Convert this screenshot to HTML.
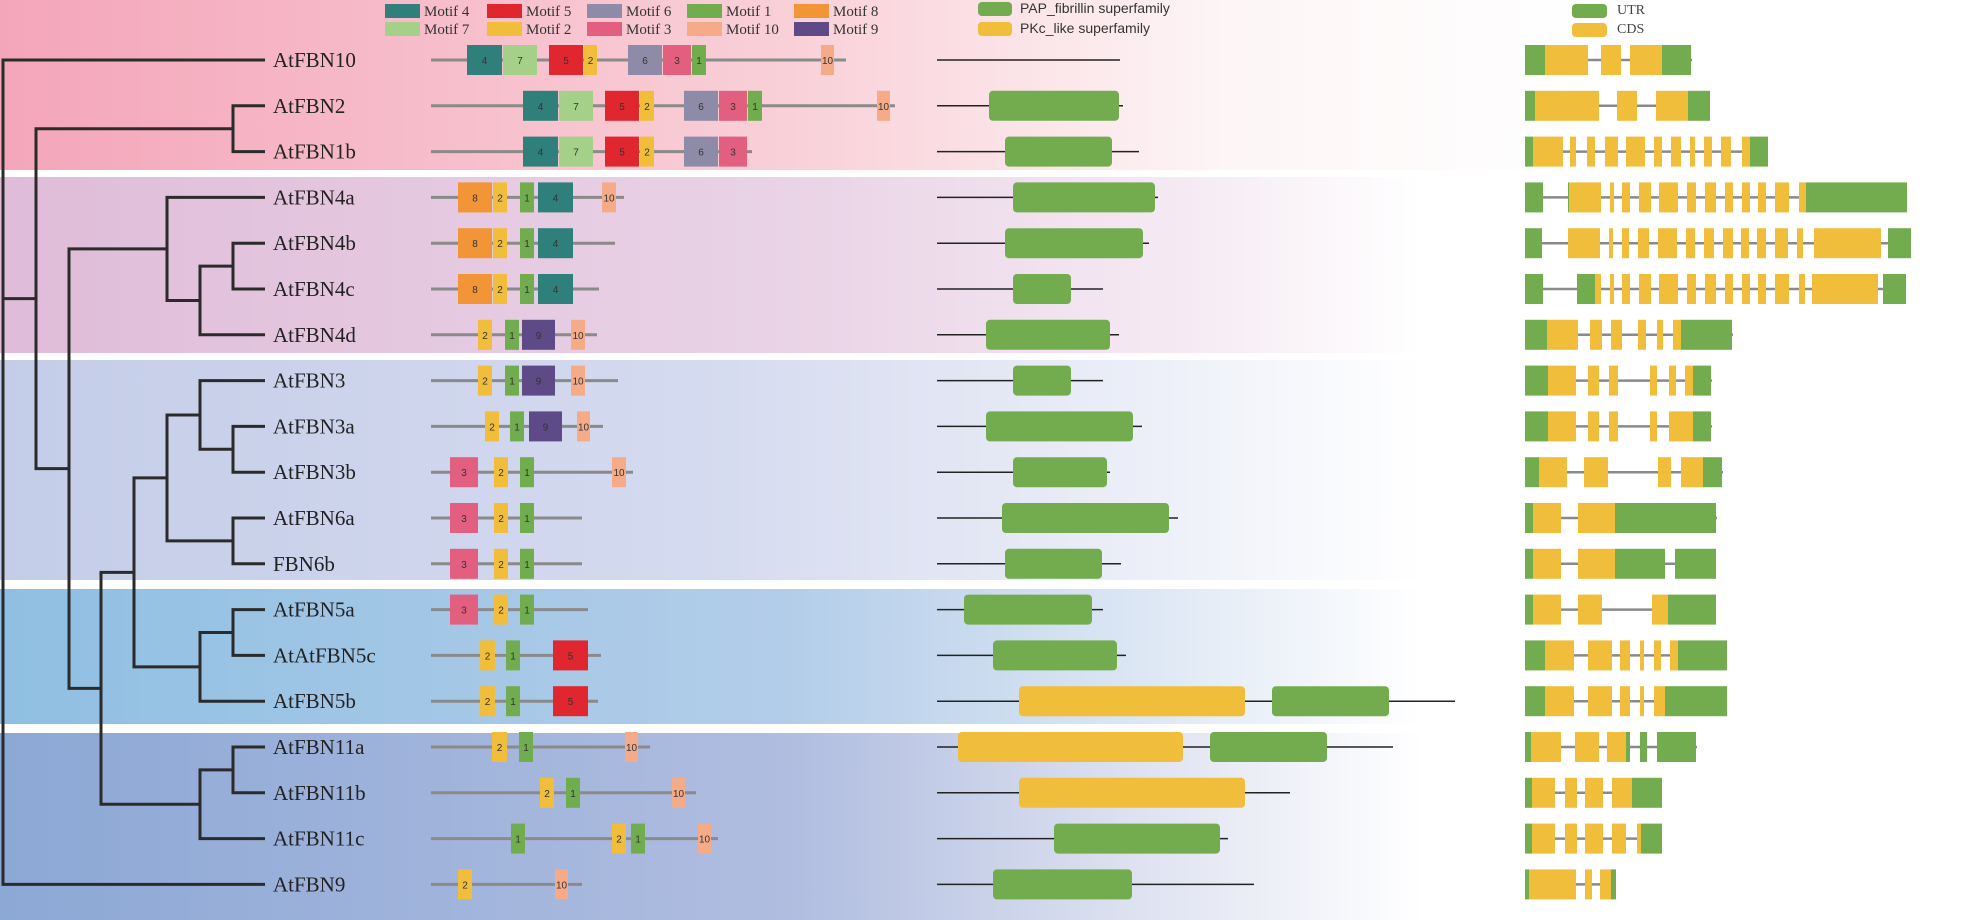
<!DOCTYPE html>
<html><head><meta charset="utf-8">
<style>
html,body{margin:0;padding:0;background:#fff;}
#wrap{position:relative;width:1975px;height:920px;overflow:hidden;background:#fff;}
.band{position:absolute;left:0;width:1975px;}
svg{position:absolute;left:0;top:0;}
text{font-family:"Liberation Serif",serif;}
.num{font-family:"Liberation Sans",sans-serif;font-size:10px;fill:#333;}
</style></head>
<body>
<div id="wrap">
<div class="band" style="top:0;height:170px;background:linear-gradient(90deg,#f4a6b9 0%,#f9d0d8 40%,#fdf5f6 62%,#fff 80%)"></div>
<div class="band" style="top:177px;height:176px;background:linear-gradient(90deg,#dfbcd9 0%,#e9d3e6 40%,#f5eaf3 60%,#fff 72%)"></div>
<div class="band" style="top:360px;height:220px;background:linear-gradient(90deg,#c4cde8 0%,#d4daef 35%,#eceff8 58%,#fff 72%)"></div>
<div class="band" style="top:589px;height:135px;background:linear-gradient(90deg,#8fbfe2 0%,#b3cde9 40%,#dde7f4 58%,#fff 72%)"></div>
<div class="band" style="top:733px;height:187px;background:linear-gradient(90deg,#8ca8d5 0%,#b0bde0 40%,#dfe3f1 58%,#fff 72%)"></div>
<svg id="fig" width="1975" height="920"></svg>
</div>
<script>
const genes=["AtFBN10","AtFBN2","AtFBN1b","AtFBN4a","AtFBN4b","AtFBN4c","AtFBN4d","AtFBN3","AtFBN3a","AtFBN3b","AtFBN6a","FBN6b","AtFBN5a","AtAtFBN5c","AtFBN5b","AtFBN11a","AtFBN11b","AtFBN11c","AtFBN9"];
const motifColors={1:"#71ad4e",2:"#f0be3a",3:"#e35f80",4:"#2f7f7a",5:"#e0262f",6:"#8e8ba8",7:"#a5d08a",8:"#f29536",9:"#5e4a86",10:"#f6ab88"};
const motifLegendOrder=[4,7,5,2,6,3,1,10,8,9];
// protein lengths (motif scale units)
const protLen=[415,464,321,193,184,168,166,187,172,202,151,151,157,170,167,219,265,287,151];
// motifs: [motif id, start, end]
const motifs=[
[[4,36,71],[7,72,106],[5,118,152],[2,153,166],[6,197,231],[3,232,260],[1,261,275],[10,390,403]],
[[4,92,127],[7,128,162],[5,174,208],[2,209,223],[6,253,287],[3,288,316],[1,317,331],[10,446,459]],
[[4,92,127],[7,128,162],[5,174,208],[2,209,223],[6,253,287],[3,288,316]],
[[8,27,61],[2,62,76],[1,89,103],[4,107,142],[10,171,185]],
[[8,27,61],[2,62,76],[1,89,103],[4,107,142]],
[[8,27,61],[2,62,76],[1,89,103],[4,107,142]],
[[2,47,61],[1,74,88],[9,91,124],[10,140,154]],
[[2,47,61],[1,74,88],[9,91,124],[10,140,154]],
[[2,54,68],[1,79,93],[9,98,131],[10,146,159]],
[[3,19,47],[2,63,77],[1,89,103],[10,181,195]],
[[3,19,47],[2,63,77],[1,89,103]],
[[3,19,47],[2,63,77],[1,89,103]],
[[3,19,47],[2,63,77],[1,89,103]],
[[2,49,64],[1,75,89],[5,122,157]],
[[2,49,64],[1,75,89],[5,122,157]],
[[2,61,76],[1,88,102],[10,194,207]],
[[2,109,123],[1,135,149],[10,241,254]],
[[1,80,94],[2,181,195],[1,200,214],[10,267,280]],
[[2,27,41],[10,124,137]]
];
// domain track: total length and domains [type, start, end]
const domLen=[183,186,202,221,212,166,182,166,205,173,241,184,166,189,518,456,353,291,317];
const domains=[
[],[["PAP",52,182]],[["PAP",68,175]],[["PAP",76,218]],[["PAP",68,206]],[["PAP",76,134]],[["PAP",49,173]],
[["PAP",76,134]],[["PAP",49,196]],[["PAP",76,170]],[["PAP",65,232]],[["PAP",68,165]],[["PAP",27,155]],[["PAP",56,180]],
[["PKc",82,308],["PAP",335,452]],[["PKc",21,246],["PAP",273,390]],[["PKc",82,308]],[["PAP",117,283]],[["PAP",56,195]]
];
// gene structure: total length and features [type, start, end]
const geneLen=[167,185,243,382,386,381,208,187,187,198,192,191,191,202,202,172,137,137,91];
const geneFeat=[
[["U",0,20],["C",20,63],["C",76,96],["C",105,137],["U",137,166]],
[["U",0,10],["C",10,74],["C",92,112],["C",131,163],["U",163,185]],
[["U",0,8],["C",8,38],["C",45,51],["C",62,70],["C",80,93],["C",101,120],["C",129,137],["C",146,156],["C",165,170],["C",179,187],["C",196,206],["C",217,225],["U",225,243]],
[["U",0,18],["U",43,44],["C",44,76],["C",85,89],["C",97,105],["C",114,126],["C",134,153],["C",162,171],["C",180,191],["C",200,208],["C",217,225],["C",233,241],["C",250,264],["C",274,281],["U",281,382]],
[["U",0,17],["C",43,75],["C",84,88],["C",97,104],["C",113,124],["C",133,152],["C",161,170],["C",179,189],["C",198,208],["C",216,224],["C",232,241],["C",250,263],["C",272,278],["C",289,356],["U",363,386]],
[["U",0,18],["U",52,70],["C",70,76],["C",85,89],["C",97,105],["C",114,126],["C",134,153],["C",162,171],["C",180,191],["C",200,208],["C",217,225],["C",233,241],["C",250,264],["C",274,280],["C",287,353],["U",358,381]],
[["U",0,22],["C",22,53],["C",65,77],["C",86,97],["C",113,121],["C",132,138],["C",148,156],["U",156,207]],
[["U",0,23],["C",23,51],["C",63,74],["C",84,93],["C",125,132],["C",144,151],["C",160,168],["U",168,186]],
[["U",0,23],["C",23,51],["C",63,74],["C",84,93],["C",125,132],["C",144,168],["U",168,186]],
[["U",0,14],["C",14,42],["C",59,83],["C",133,146],["C",156,178],["U",178,197]],
[["U",0,8],["C",8,36],["C",53,90],["U",90,191]],
[["U",0,8],["C",8,36],["C",53,90],["U",90,140],["U",150,191]],
[["U",0,8],["C",8,36],["C",53,77],["C",127,143],["U",143,191]],
[["U",0,20],["C",20,49],["C",63,87],["C",95,105],["C",115,119],["C",129,136],["C",145,153],["U",153,202]],
[["U",0,20],["C",20,49],["C",63,87],["C",95,105],["C",115,119],["C",129,140],["U",140,202]],
[["U",0,6],["C",6,36],["C",50,74],["C",82,101],["U",101,105],["U",115,122],["U",132,171]],
[["U",0,7],["C",7,30],["C",40,52],["C",60,78],["C",87,107],["U",107,137]],
[["U",0,7],["C",7,30],["C",40,52],["C",60,78],["C",87,101],["C",112,116],["U",116,137]],
[["U",0,4],["C",4,51],["C",60,67],["C",75,86],["U",86,91]]
];
const NS="http://www.w3.org/2000/svg";
const svg=document.getElementById("fig");
function mk(tag,attrs,parent){const e=document.createElementNS(NS,tag);for(const k in attrs)e.setAttribute(k,attrs[k]);(parent||svg).appendChild(e);return e;}
const rowY=i=>60+45.8*i;
const mX=v=>431+v, dX=v=>937+v, gX=v=>1525+v;

// tree
const tree={x:3,c:[0,{x:36,c:[{x:233,c:[1,2]},{x:69,c:[{x:167,c:[3,{x:200,c:[{x:233,c:[4,5]},6]}]},{x:101,c:[{x:134,c:[{x:167,c:[{x:200,c:[7,{x:233,c:[8,9]}]},{x:233,c:[10,11]}]},{x:200,c:[{x:233,c:[12,13]},14]}]},{x:200,c:[{x:233,c:[15,16]},17]}]}]}]},18]};
const tg=mk("g",{stroke:"#2b2b2b","stroke-width":3,fill:"none"});


function draw(n){
  if(typeof n==="number") return {y:rowY(n),x:265,leaf:true};
  const ch=n.c.map(draw);
  const ys=ch.map(c=>c.y);
  mk("line",{x1:n.x,y1:Math.min(...ys),x2:n.x,y2:Math.max(...ys)},tg);
  ch.forEach((c,i)=>{const cx=c.leaf?265:n.c[i].x;mk("line",{x1:n.x-1.5,y1:c.y,x2:cx,y2:c.y},tg);});
  return {y:(ys[0]+ys[ys.length-1])/2};
}
draw(tree);

genes.forEach((g,i)=>{
  const y=rowY(i);
  const t=mk("text",{x:273,y:y+7,"font-size":21,fill:"#222"});t.textContent=g;
  
  
  // motif track
  const mg=mk("g",{});
  
  
  mk("line",{x1:mX(0),y1:y,x2:mX(protLen[i]),y2:y,stroke:"#8a8a8a","stroke-width":3},mg);
  motifs[i].forEach(m=>{
    const r=mk("rect",{x:mX(m[1]),y:y-15,width:m[2]-m[1],height:30,fill:motifColors[m[0]]},mg);
    
    
    const n=mk("text",{x:mX((m[1]+m[2])/2),y:y+4,"text-anchor":"middle",class:"num"},mg);n.textContent=m[0];
  });
  // domain track
  const dg=mk("g",{});
  
  
  mk("line",{x1:dX(0),y1:y,x2:dX(domLen[i]),y2:y,stroke:"#222","stroke-width":1.5},dg);
  domains[i].forEach(d=>{
    const r=mk("rect",{x:dX(d[1]),y:y-15,width:d[2]-d[1],height:30,rx:4,fill:d[0]==="PAP"?"#72ac4f":"#f0be3a"},dg);
    
    
  });
  // gene structure
  const sg=mk("g",{});
  
  
  mk("line",{x1:gX(0),y1:y,x2:gX(geneLen[i]),y2:y,stroke:"#8a8a8a","stroke-width":2.5},sg);
  geneFeat[i].forEach(f=>{
    const r=mk("rect",{x:gX(f[1]),y:y-15,width:f[2]-f[1],height:30,fill:f[0]==="U"?"#72ac4f":"#f0be3a"},sg);
    
    
  });
});

// motif legend
const lg=mk("g",{});


const legX=[385,487,587,687,794];
motifLegendOrder.forEach((m,k)=>{
  const col=Math.floor(k/2),row=k%2;
  const x=legX[col],y=row?22:4;
  const r=mk("rect",{x:x,y:y,width:35,height:14,fill:motifColors[m]},lg);
  
  
  const t=mk("text",{x:x+39,y:y+12,"font-size":15,fill:"#333"},lg);t.textContent="Motif "+m;
});
// domain legend
const dl=mk("g",{});


mk("rect",{x:978,y:2,width:34,height:14,rx:4,fill:"#72ac4f"},dl);
mk("rect",{x:978,y:22,width:34,height:14,rx:4,fill:"#f0be3a"},dl);
let t1=mk("text",{x:1020,y:13,"font-size":14,fill:"#333","font-family":"Liberation Sans"},dl);t1.textContent="PAP_fibrillin superfamily";
t1.style.fontFamily='"Liberation Sans",sans-serif';
let t2=mk("text",{x:1020,y:33,"font-size":14,fill:"#333"},dl);t2.textContent="PKc_like superfamily";
t2.style.fontFamily='"Liberation Sans",sans-serif';
// gene structure legend
const gl=mk("g",{});


mk("rect",{x:1572,y:4,width:35,height:14,rx:4,fill:"#72ac4f"},gl);
mk("rect",{x:1572,y:23,width:35,height:14,rx:4,fill:"#f0be3a"},gl);
let t3=mk("text",{x:1617,y:14,"font-size":14,fill:"#444"},gl);t3.textContent="UTR";
let t4=mk("text",{x:1617,y:33,"font-size":14,fill:"#444"},gl);t4.textContent="CDS";
</script>
</body></html>
